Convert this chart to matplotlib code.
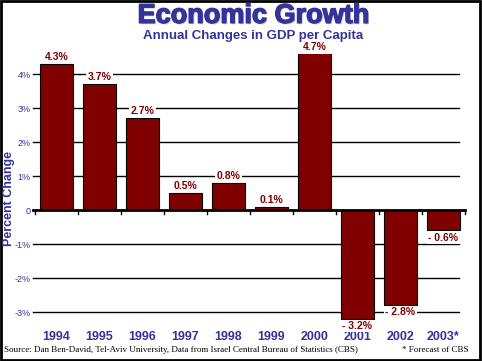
import matplotlib
matplotlib.use("Agg")
import matplotlib.pyplot as plt
import matplotlib.patheffects as pe
from matplotlib.patches import Rectangle
import numpy as np

# data
years = ["1994", "1995", "1996", "1997", "1998", "1999", "2000", "2001", "2002", "2003*"]
growth = [4.3, 3.7, 2.7, 0.5, 0.8, 0.1, 4.7, -3.2, -2.8, -0.6]
labels = ["4.3%", "3.7%", "2.7%", "0.5%", "0.8%", "0.1%", "4.7%", "- 3.2%", "- 2.8%", "- 0.6%"]
yticks = [-3, -2, -1, 0, 1, 2, 3, 4]
ytick_labels = ["-3%", "-2%", "-1%", "0", "1%", "2%", "3%", "4%"]

navy = "#333399"
bar_red = "#800000"

fig = plt.figure(figsize=(4.82, 3.61), dpi=100)
ax = fig.add_axes([0.0726, 0.1025, 0.8921, 0.7471])

x = np.arange(len(years))
ax.bar(x, growth, width=0.75, color=bar_red, edgecolor="black", linewidth=0.8, zorder=3)

ax.set_xlim(-0.5, len(years) - 0.5)
ax.set_ylim(-3.35, 4.58)

# gridlines (slightly shorter on the right than the zero line)
for t in yticks:
    if t != 0:
        ax.plot([-0.55, 9.36], [t, t], color="black", linewidth=1, zorder=1, clip_on=False)
ax.plot([-0.55, 9.5], [0, 0], color="black", linewidth=2, zorder=4, clip_on=False)

# boundary ticks on the zero line
for b in np.arange(-0.5, len(years), 1.0):
    ax.plot([b, b], [0, -0.12], color="black", linewidth=1, zorder=4, clip_on=False)

for s in ax.spines.values():
    s.set_visible(False)

ax.set_yticks(yticks)
ax.set_yticklabels(ytick_labels, fontsize=6.5, color=navy, fontfamily="Liberation Sans")
ax.tick_params(axis="y", length=0, pad=3)
ax.set_xticks([])

fig.text(0.019, 0.45, "Percent Change", rotation=90, ha="center", va="center",
         fontsize=9, color=navy, fontweight="bold", fontfamily="Liberation Sans")

# value labels
for xi, v, lab in zip(x, growth, labels):
    if v >= 0:
        yy = min(v, 4.58) + 0.06
        va = "bottom"
    else:
        yy = v - 0.06
        va = "top"
    ax.text(xi, yy, lab, ha="center", va=va, fontsize=7.5, fontweight="bold",
            color=bar_red, fontfamily="Liberation Sans", zorder=5, clip_on=False,
            bbox=dict(facecolor="white", edgecolor="none", pad=1))

# year labels
for xi, yr in zip(x, years):
    ax.text(xi, -3.72, yr, ha="center", va="center", fontsize=9, fontweight="bold",
            color=navy, fontfamily="Liberation Sans", clip_on=False)

# titles
fig.text(0.526, 0.956, "Economic Growth", ha="center", va="center", fontsize=19.5,
         fontweight="bold", color=navy, fontfamily="Liberation Sans",
         path_effects=[pe.withSimplePatchShadow(offset=(1, -1), shadow_rgbFace="#aaaabb", alpha=0.6),
                       pe.withStroke(linewidth=1.0, foreground=navy)])
fig.text(0.525, 0.900, "Annual Changes in GDP per Capita", ha="center", va="center",
         fontsize=9.5, fontweight="bold", color=navy, fontfamily="Liberation Sans")

# footer
fig.text(0.008, 0.02, "Source: Dan Ben-David, Tel-Aviv University, Data from Israel Central Bureau of Statistics (CBS)",
         ha="left", va="bottom", fontsize=6.5, fontfamily="Liberation Serif", color="black")
fig.text(0.972, 0.02, "* Forecast of CBS", ha="right", va="bottom", fontsize=6.5,
         fontfamily="Liberation Serif", color="black")

# border around the picture
fig.patches.append(Rectangle((0.002, 0.003), 0.994, 0.994, transform=fig.transFigure,
                             fill=False, edgecolor="black", linewidth=2))

fig.savefig("out.png", dpi=100)
